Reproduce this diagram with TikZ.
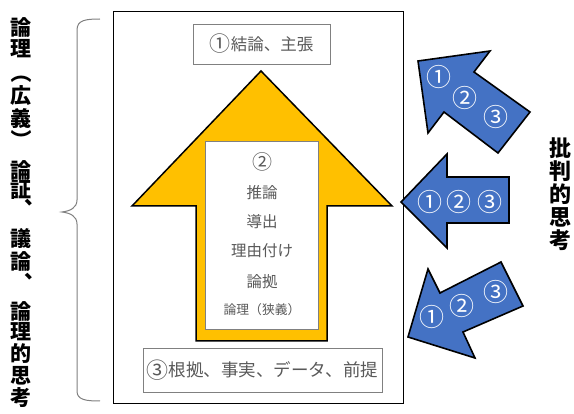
\documentclass[tikz,border=0pt]{standalone}
\usepackage{fontspec}
\usepackage{graphicx}
\newfontfamily\jp{Noto Sans CJK JP}
\definecolor{yel}{HTML}{FFC000}
\definecolor{blu}{HTML}{4472C4}
\definecolor{txtgray}{HTML}{595959}
\definecolor{boxgray}{HTML}{808080}
\newcommand{\cnum}[3]{\raisebox{#2}{\fontsize{#1}{#1}\selectfont #3}}
\tikzset{
  lbl/.style={font=\jp\fontsize{16.5}{18}\selectfont, text=txtgray, inner sep=0pt},
  tbox/.style={draw=boxgray, line width=0.9pt, fill=white, inner sep=0pt},
  vchar/.style={font=\jp\bfseries\fontsize{21}{22}\selectfont, inner sep=0pt, text=black},
  num/.style={font=\jp\fontsize{25}{26}\selectfont, text=white, inner sep=0pt},
  bluarrow/.style={fill=blu, draw=black, line width=1.6pt, line join=miter},
}
\begin{document}
\begin{tikzpicture}[x=1pt,y=-1pt]
\path[use as bounding box] (0,0) rectangle (574,414);
% main frame
\node[draw=black, line width=1pt, minimum width=290, minimum height=392, inner sep=0pt] (frame) at (258,208) {};
% conclusion box
\node[tbox, minimum width=137, minimum height=40] (concl) at (261.5,44) {};
\node[lbl] (concltxt) at (concl.center) {\cnum{21}{-1.8pt}{①}結論、主張};
% yellow arrow
\draw[fill=yel, draw=black, line width=1.5pt, line join=miter]
  (261,71) -- (392,206) -- (327,206) -- (327,341) -- (196,341) -- (196,206) -- (132,206) -- cycle;
% inner box
\node[tbox, minimum width=113, minimum height=188] (inner) at (261.5,235) {};
\node[lbl, font=\jp\fontsize{20}{21}\selectfont] (n2) at (262,162) {②};
\node[lbl, font=\jp\fontsize{15.5}{16}\selectfont] (t1) at (262,193) {推論};
\node[lbl, font=\jp\fontsize{15.5}{16}\selectfont] (t2) at (262,222) {導出};
\node[lbl, font=\jp\fontsize{15.5}{16}\selectfont] (t3) at (262,251) {理由付け};
\node[lbl, font=\jp\fontsize{15.5}{16}\selectfont] (t4) at (262,282) {論拠};
\node[lbl, font=\jp\fontsize{12.8}{14}\selectfont] (t5) at (262,310) {論理（狭義）};
% grounds box
\node[tbox, minimum width=239, minimum height=44] (grounds) at (262.5,370) {};
\node[lbl, font=\jp\fontsize{17.5}{19}\selectfont] (groundstxt) at (grounds.center) {\cnum{22}{-1.8pt}{③}根拠、事実、データ、前提};
% brace
\draw[boxgray, line width=1pt] (100,19) .. controls (86,19) and (77,20) .. (77,30) -- (77,200)
  .. controls (77,208) and (70,211) .. (62,212) .. controls (70,213) and (77,216) .. (77,224)
  -- (77,391) .. controls (77,400) and (86,401) .. (100,401);
% left vertical text
\foreach \c/\yy [count=\i] in {論/27.5, 理/48.5, 広/96, 義/119,
  論/170, 証/190, 議/239, 論/261,
  論/311, 理/332, 的/354, 思/376, 考/398}
  \node[vchar] (l\i) at (21,\yy) {\c};
\node[vchar] (lpo) at (21,80) {\rotatebox[origin=c]{-90}{\kern-11pt（}};
\node[vchar] (lpc) at (21,136) {\rotatebox[origin=c]{-90}{）\kern-11pt}};
\node[vchar] (lc1) at (35,203) {、};
\node[vchar] (lc2) at (35,277) {、};
% right vertical text
\foreach \c/\yy [count=\i] in {批/148.5, 判/171.5, 的/194.5, 思/217.5, 考/240.5}
  \node[vchar, font=\jp\bfseries\fontsize{22}{23}\selectfont] (r\i) at (560,\yy) {\c};
% blue arrows
\draw[bluarrow] (418,61) -- (490,51) -- (474,72) -- (530,112) -- (498,153) -- (444,112) -- (428,133) -- cycle;
\node[num] (a1) at (439,77) {①};
\node[num] (a2) at (465,98) {②};
\node[num] (a3) at (496,117) {③};
\draw[bluarrow] (401,202) -- (447,154) -- (447,177) -- (509,177) -- (509,223) -- (447,223) -- (447,248) -- cycle;
\node[num] (b1) at (430,202) {①};
\node[num] (b2) at (459,202) {②};
\node[num] (b3) at (490,202) {③};
\draw[bluarrow] (408,337) -- (428,269) -- (440,293) -- (501,262) -- (523,306) -- (463,332) -- (475,358) -- cycle;
\node[num] (c1) at (432,317) {①};
\node[num] (c2) at (462,306) {②};
\node[num] (c3) at (496,292) {③};
\end{tikzpicture}
\end{document}
